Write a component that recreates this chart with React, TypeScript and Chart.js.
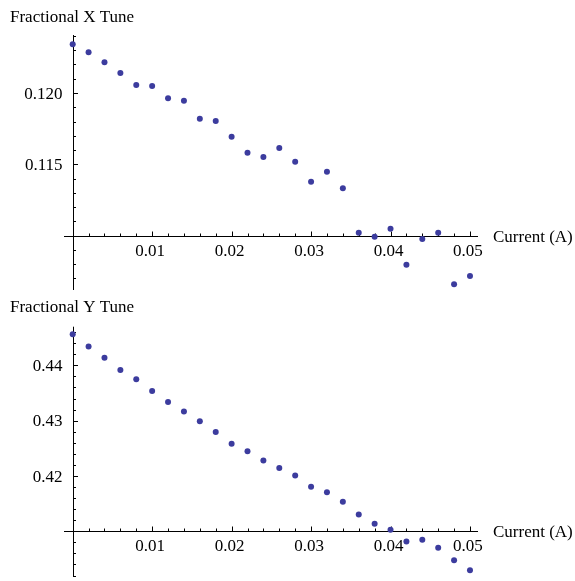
import React, { useEffect, useRef } from "react";
import { Chart, registerables } from "chart.js";

Chart.register(...registerables);

// Data
const currents = [
  0, 0.002, 0.004, 0.006, 0.008, 0.01, 0.012, 0.014, 0.016, 0.018, 0.02, 0.022, 0.024,
  0.026, 0.028, 0.03, 0.032, 0.034, 0.036, 0.038, 0.04, 0.042, 0.044, 0.046, 0.048, 0.05,
];
const xTune = [
  0.12342, 0.12285, 0.12215, 0.1214, 0.12056, 0.12049, 0.11963, 0.11946, 0.1182, 0.11804,
  0.11694, 0.11581, 0.11551, 0.11614, 0.11518, 0.11378, 0.11448, 0.11332, 0.1102, 0.10992,
  0.11048, 0.10796, 0.10976, 0.1102, 0.10658, 0.10717,
];
const yTune = [
  0.44564, 0.44343, 0.44137, 0.43916, 0.43751, 0.43537, 0.43336, 0.43164, 0.42991, 0.42795,
  0.42582, 0.42447, 0.42279, 0.42144, 0.42007, 0.41806, 0.41705, 0.41532, 0.41301, 0.41135,
  0.41028, 0.40815, 0.40845, 0.40703, 0.40477, 0.40293,
];
const xMajorTicks = [0.01, 0.02, 0.03, 0.04, 0.05];
const xMajorLabels = ["0.01", "0.02", "0.03", "0.04", "0.05"];
const xTuneMajorTicks = [0.115, 0.12];
const xTuneMajorLabels = ["0.115", "0.120"];
const yTuneMajorTicks = [0.42, 0.43, 0.44];
const yTuneMajorLabels = ["0.42", "0.43", "0.44"];

const FONT = '17px "Liberation Serif", "Times New Roman", serif';
const POINT_COLOR = "#3c3c9e";

type PlotSpec = {
  title: string;
  xLabel: string;
  values: number[];
  yMin: number;
  yMax: number;
  yCross: number;
  yMajor: number[];
  yMajorLabels: string[];
  yMinorStep: number;
  titleBaseline: number;
  padTop: number;
  padBottom: number;
  height: number;
};

function makeAxesPlugin(spec: PlotSpec) {
  return {
    id: "mmaAxes",
    beforeDatasetsDraw(chart: any) {
      const ctx = chart.ctx as CanvasRenderingContext2D;
      const xs = chart.scales.x;
      const ys = chart.scales.y;
      const area = chart.chartArea;
      const ax = Math.round(xs.getPixelForValue(0)) + 0.5;
      const ay = Math.round(ys.getPixelForValue(spec.yCross)) + 0.5;
      ctx.save();
      ctx.strokeStyle = "#000";
      ctx.lineWidth = 1;
      // axis lines
      ctx.beginPath();
      ctx.moveTo(area.left, ay);
      ctx.lineTo(area.right, ay);
      ctx.moveTo(ax, area.top);
      ctx.lineTo(ax, area.bottom);
      ctx.stroke();
      // x ticks (upward)
      ctx.beginPath();
      for (let i = 1; i <= 25; i++) {
        const v = i * 0.002;
        const px = Math.round(xs.getPixelForValue(v)) + 0.5;
        const major = i % 5 === 0;
        ctx.moveTo(px, ay);
        ctx.lineTo(px, ay - (major ? 5 : 3));
      }
      // y ticks (rightward)
      const steps = Math.round((spec.yMax - spec.yMin) / spec.yMinorStep) + 2;
      const start = Math.ceil(spec.yMin / spec.yMinorStep);
      for (let k = start; k < start + steps; k++) {
        const v = k * spec.yMinorStep;
        if (v < spec.yMin || v > spec.yMax) continue;
        const py = Math.round(ys.getPixelForValue(v)) + 0.5;
        const major = spec.yMajor.some((m) => Math.abs(m - v) < spec.yMinorStep / 10);
        ctx.moveTo(ax, py);
        ctx.lineTo(ax + (major ? 4.5 : 2.5), py);
      }
      ctx.stroke();
      // labels
      ctx.fillStyle = "#000";
      ctx.font = FONT;
      ctx.textBaseline = "alphabetic";
      ctx.textAlign = "center";
      xMajorTicks.forEach((v, i) => {
        const px = xs.getPixelForValue(v);
        ctx.fillText(xMajorLabels[i], px - 2, ay + 19.5);
      });
      ctx.textAlign = "right";
      spec.yMajor.forEach((v, i) => {
        const py = ys.getPixelForValue(v);
        ctx.fillText(spec.yMajorLabels[i], ax - 11, py + 5.7);
      });
      ctx.textAlign = "left";
      ctx.fillText(spec.xLabel, 493, ay + 5.7);
      ctx.fillText(spec.title, 10, spec.titleBaseline);
      ctx.restore();
    },
  };
}

function Plot({ spec, top }: { spec: PlotSpec; top: number }) {
  const ref = useRef<HTMLCanvasElement | null>(null);
  useEffect(() => {
    if (!ref.current) return;
    const chart = new Chart(ref.current, {
      type: "scatter",
      data: {
        datasets: [
          {
            data: currents.map((c, i) => ({ x: c, y: spec.values[i] })),
            backgroundColor: POINT_COLOR,
            borderColor: POINT_COLOR,
            borderWidth: 0,
            pointRadius: 3,
            clip: false as any,
          },
        ],
      },
      options: {
        responsive: false,
        animation: false,
        devicePixelRatio: 1,
        layout: { padding: { left: 64, right: 97, top: spec.padTop, bottom: spec.padBottom } },
        plugins: { legend: { display: false }, tooltip: { enabled: false }, title: { display: false } },
        scales: {
          x: { type: "linear", min: -0.001095, max: 0.05101, display: false },
          y: { type: "linear", min: spec.yMin, max: spec.yMax, display: false },
        },
      },
      plugins: [makeAxesPlugin(spec)],
    });
    return () => chart.destroy();
  }, [spec]);
  return (
    <canvas
      ref={ref}
      width={575}
      height={spec.height}
      style={{ position: "absolute", left: 0, top, width: 575, height: spec.height }}
    />
  );
}

const topSpec: PlotSpec = {
  title: "Fractional X Tune",
  xLabel: "Current (A)",
  values: xTune,
  yMin: 0.106185,
  yMax: 0.124067,
  yCross: 0.11,
  yMajor: xTuneMajorTicks,
  yMajorLabels: xTuneMajorLabels,
  yMinorStep: 0.001,
  titleBaseline: 21.5,
  padTop: 35,
  padBottom: 6,
  height: 296,
};

const bottomSpec: PlotSpec = {
  title: "Fractional Y Tune",
  xLabel: "Current (A)",
  values: yTune,
  yMin: 0.40173,
  yMax: 0.44699,
  yCross: 0.41,
  yMajor: yTuneMajorTicks,
  yMajorLabels: yTuneMajorLabels,
  yMinorStep: 0.002,
  titleBaseline: 16,
  padTop: 30.7,
  padBottom: 0,
  height: 285,
};

export default function App() {
  return (
    <div style={{ position: "absolute", left: 0, top: 0, width: 575, height: 581, background: "#fff", overflow: "hidden" }}>
      <Plot spec={topSpec} top={0} />
      <Plot spec={bottomSpec} top={296} />
    </div>
  );
}
